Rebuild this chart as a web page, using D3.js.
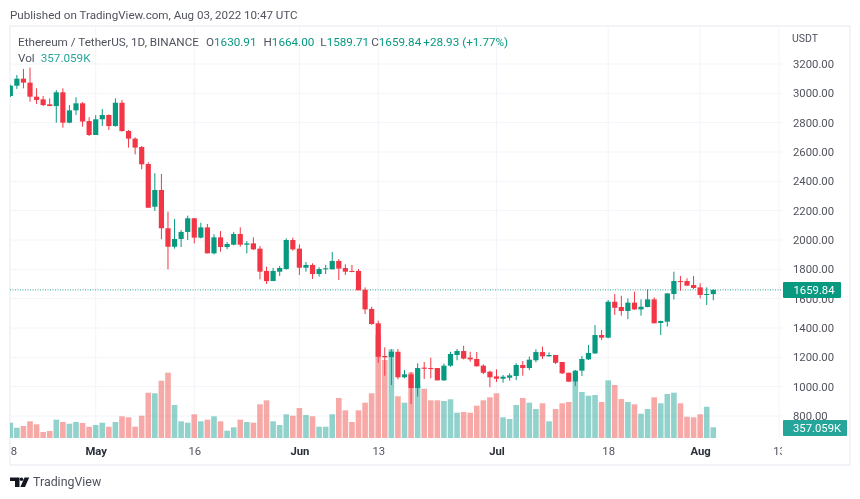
<!DOCTYPE html>
<html>
  <head>
    <meta charset="utf-8">
    <script src="https://d3js.org/d3.v7.min.js"></script>
    <style>
      html, body { margin: 0; padding: 0; background: #fff; }
      svg { display: block; font-family: Roboto, sans-serif; filter: blur(0.3px); }
      .axis path, .axis line { display: none; }
      .axis text { fill: #50535e; font-size: 11.3px; font-family: Roboto, sans-serif; }
    </style>
  </head>
  <body>
    <svg id="chart" width="860" height="499"></svg>
    <script>
      // daily candles, Apr 18 to Aug 3 2022
      const opens = [2982,3052,3100,3073,2977,2959,2925,2913,3007,2800,2884,2932,2811,2716,2823,2852,2777,2936,2743,2691,2634,2518,2227,2341,2080,1954,2007,2055,2148,2016,2086,1909,2018,1952,1968,2041,1968,1977,1941,1789,1720,1784,1802,2000,1941,1811,1830,1768,1800,1800,1857,1809,1789,1789,1661,1530,1432,1209,1202,1238,1064,1084,991,1130,1127,1127,1043,1143,1216,1243,1198,1189,1143,1102,1070,1054,1061,1073,1148,1127,1180,1236,1207,1216,1168,1095,1034,1109,1186,1227,1352,1334,1579,1543,1516,1573,1527,1543,1595,1434,1443,1632,1720,1720,1693,1677,1625,1630.91];
      const highs = [3058,3125,3166,3175,3034,2982,2966,3022,3034,2920,2973,2940,2837,2852,2893,2856,2966,2955,2750,2700,2641,2530,2455,2450,2193,2143,2068,2166,2150,2118,2109,2039,2061,1986,2055,2086,1993,2018,1959,1818,1809,1823,2011,2016,1970,1850,1841,1814,1830,1918,1870,1834,1830,1802,1677,1545,1450,1268,1255,1257,1114,1098,1159,1168,1198,1127,1157,1238,1257,1279,1238,1236,1152,1109,1118,1080,1091,1159,1175,1205,1255,1273,1234,1216,1168,1095,1114,1209,1284,1420,1386,1591,1632,1620,1602,1648,1595,1664,1609,1450,1636,1784,1755,1739,1755,1705,1677,1664];
      const lows = [2975,3030,3034,2943,2927,2913,2913,2800,2766,2796,2852,2773,2709,2716,2777,2750,2773,2738,2630,2584,2482,2220,2198,2005,1800,1941,1952,2000,1977,2011,1909,1902,1920,1937,1964,1954,1909,1932,1732,1700,1720,1755,1798,1927,1761,1784,1734,1750,1768,1800,1727,1761,1780,1657,1495,1422,1163,1075,1011,1050,1057,882,932,1052,1057,1043,1040,1136,1180,1186,1170,1136,1086,996,1032,1027,1041,1045,1075,1114,1166,1189,1205,1154,1086,1034,1005,1073,1182,1223,1318,1330,1489,1484,1461,1523,1484,1541,1432,1352,1409,1595,1654,1686,1666,1602,1557,1589.71];
      const closes = [3052,3100,3073,2977,2955,2920,2913,3007,2800,2884,2932,2808,2716,2823,2852,2777,2936,2743,2691,2630,2516,2220,2341,2080,1954,2007,2055,2148,2016,2086,1909,2018,1952,1973,2041,1968,1977,1936,1784,1720,1789,1809,2000,1936,1811,1830,1768,1802,1807,1857,1805,1784,1782,1657,1527,1427,1204,1200,1238,1064,1084,991,1127,1122,1120,1043,1143,1223,1243,1191,1186,1139,1095,1064,1054,1068,1077,1148,1127,1184,1236,1207,1216,1163,1091,1034,1109,1189,1230,1352,1334,1579,1538,1516,1573,1527,1545,1595,1432,1448,1636,1720,1716,1689,1673,1625,1632,1659.84];
      const volumes = [511,344,401,558,458,200,234,611,534,478,534,501,377,434,511,377,534,725,691,377,745,1513,1493,1914,2181,1102,558,511,792,558,611,725,558,244,357,611,534,511,1126,1259,558,434,792,745,1002,768,725,377,377,792,1336,925,534,925,1179,1493,3440,2605,2963,1393,1179,2194,1737,1647,1259,1259,1236,1293,845,868,845,1079,1259,1359,1493,691,635,1102,1336,1179,969,1159,558,969,1159,1202,1880,1536,1413,1436,1202,1927,1770,1303,1202,1126,812,969,1359,1159,1470,1513,1159,711,691,792,1045,357.059];

      const priceTicks = [800,1000,1200,1400,1600,1800,2000,2200,2400,2600,2800,3000,3200];
      const timeTickDays = [0,13,28,44,56,74,91,105,117];
      const timeTickLabels = ["18","May","16","Jun","13","Jul","18","Aug","13"];
      const boldLabels = ["May","Jun","Jul","Aug"];
      const lastPrice = 1659.84;
      const lastVolume = 357.059;

      const up = "#089981", down = "#f23645";
      const volUp = "#26a69a", volDown = "#ef5350";
      const grid = "#f2f4f9";

      const svg = d3.select("#chart");
      const x = d3.scaleLinear().domain([0, 117]).range([10.3, 779]);
      const y = d3.scaleLinear().domain([800, 3200]).range([416, 64]);
      const v = d3.scaleLinear().domain([0, 3440]).range([438, 335]);

      svg.append("defs").append("clipPath").attr("id", "pane")
        .append("rect").attr("x", 10).attr("y", 26).attr("width", 772).attr("height", 412);
      svg.append("defs").append("clipPath").attr("id", "timeclip")
        .append("rect").attr("x", 10).attr("y", 440).attr("width", 772).attr("height", 24);

      // frame
      svg.append("rect").attr("x", 10).attr("y", 26).attr("width", 840).attr("height", 439)
        .attr("fill", "none").attr("stroke", "#f0f2f7").attr("stroke-width", 1.6);

      // grid
      svg.append("g").selectAll("line").data(priceTicks).enter().append("line")
        .attr("x1", 10).attr("x2", 782)
        .attr("y1", d => y(d)).attr("y2", d => y(d))
        .attr("stroke", grid);
      svg.append("g").selectAll("line").data(timeTickDays).enter().append("line")
        .attr("x1", d => x(d)).attr("x2", d => x(d))
        .attr("y1", 27).attr("y2", 438)
        .attr("stroke", grid);

      const pane = svg.append("g").attr("clip-path", "url(#pane)");

      // volume
      pane.selectAll(".vol").data(volumes).enter().append("rect")
        .attr("class", "vol")
        .attr("x", (d, i) => x(i) - 2.8)
        .attr("width", 5.6)
        .attr("y", d => v(d))
        .attr("height", d => 438 - v(d))
        .attr("fill", (d, i) => closes[i] >= opens[i] ? volUp : volDown)
        .attr("fill-opacity", 0.5);

      // last price line
      pane.append("line")
        .attr("x1", 10).attr("x2", 782)
        .attr("y1", y(lastPrice)).attr("y2", y(lastPrice))
        .attr("stroke", up).attr("stroke-opacity", 0.85).attr("stroke-dasharray", "1 1.5");

      // candles
      pane.selectAll(".wick").data(highs).enter().append("line")
        .attr("class", "wick")
        .attr("x1", (d, i) => x(i)).attr("x2", (d, i) => x(i))
        .attr("y1", d => y(d))
        .attr("y2", (d, i) => y(lows[i]))
        .attr("stroke", (d, i) => closes[i] >= opens[i] ? up : down);
      pane.selectAll(".body").data(opens).enter().append("rect")
        .attr("class", "body")
        .attr("x", (d, i) => x(i) - 2.6)
        .attr("width", 5.2)
        .attr("y", (d, i) => y(Math.max(d, closes[i])))
        .attr("height", (d, i) => Math.max(1, Math.abs(y(d) - y(closes[i]))))
        .attr("fill", (d, i) => closes[i] >= opens[i] ? up : down);

      // price axis
      svg.append("g").attr("class", "axis").attr("transform", "translate(793,0)")
        .call(d3.axisRight(y).tickValues(priceTicks).tickFormat(d3.format(".2f")).tickSize(0).tickPadding(0));

      // time axis
      const timeAxis = svg.append("g").attr("clip-path", "url(#timeclip)")
        .append("g").attr("class", "axis").attr("transform", "translate(0,447)");
      timeAxis.call(d3.axisBottom(x).tickValues(timeTickDays)
        .tickFormat((d, i) => timeTickLabels[i]).tickSize(0).tickPadding(0));
      timeAxis.selectAll("text")
        .style("font-weight", d => boldLabels.includes(timeTickLabels[timeTickDays.indexOf(d)]) ? "700" : "400")
        .style("fill", d => boldLabels.includes(timeTickLabels[timeTickDays.indexOf(d)]) ? "#2a2e39" : "#50535e");

      // price labels on the axis
      svg.append("text").attr("x", 792).attr("y", 42).attr("fill", "#50535e").attr("font-size", 10.5).text("USDT");

      svg.append("rect").attr("x", 783).attr("y", y(lastPrice) - 8).attr("width", 58).attr("height", 16)
        .attr("rx", 1).attr("fill", up);
      svg.append("text").attr("x", 793.5).attr("y", y(lastPrice) + 4.2).attr("fill", "#fff").attr("font-size", 11.3)
        .text(d3.format(".2f")(lastPrice));

      svg.append("rect").attr("x", 783).attr("y", 420).attr("width", 64).attr("height", 16)
        .attr("rx", 1).attr("fill", volUp);
      svg.append("text").attr("x", 793).attr("y", 432).attr("fill", "#fff").attr("font-size", 11.3)
        .text(lastVolume + "K");

      // header text
      svg.append("text").attr("x", 10).attr("y", 19).attr("fill", "#50535e").attr("font-size", 11.6)
        .text("Published on TradingView.com, Aug 03, 2022 10:47 UTC");

      const legend = svg.append("text").attr("x", 18).attr("y", 46).attr("font-size", 11.7).attr("fill", "#50535e");
      legend.append("tspan").text("Ethereum / TetherUS, 1D, BINANCE");
      [["O", "1630.91", 7], ["H", "1664.00", 7], ["L", "1589.71", 6], ["C", "1659.84", 2]].forEach(p => {
        legend.append("tspan").attr("dx", p[2]).text(p[0]);
        legend.append("tspan").attr("fill", up).text(p[1]);
      });
      legend.append("tspan").attr("dx", 2).attr("fill", up).text("+28.93 (+1.77%)");
      const volText = svg.append("text").attr("x", 18).attr("y", 62).attr("font-size", 11.7).attr("fill", "#50535e");
      volText.append("tspan").text("Vol");
      volText.append("tspan").attr("dx", 6).attr("fill", volUp).text(lastVolume + "K");

      // footer logo
      const logo = svg.append("g").attr("fill", "#131722");
      logo.append("path").attr("d", "M10 477.5H19.5V487H15V481H10Z");
      logo.append("circle").attr("cx", 21.5).attr("cy", 479.3).attr("r", 1.8);
      logo.append("path").attr("d", "M24.5 477.5H29.2L25 487H20.4Z");
      svg.append("text").attr("x", 33).attr("y", 486).attr("font-size", 12.4).attr("fill", "#50535e").text("TradingView");
    </script>
  </body>
</html>
